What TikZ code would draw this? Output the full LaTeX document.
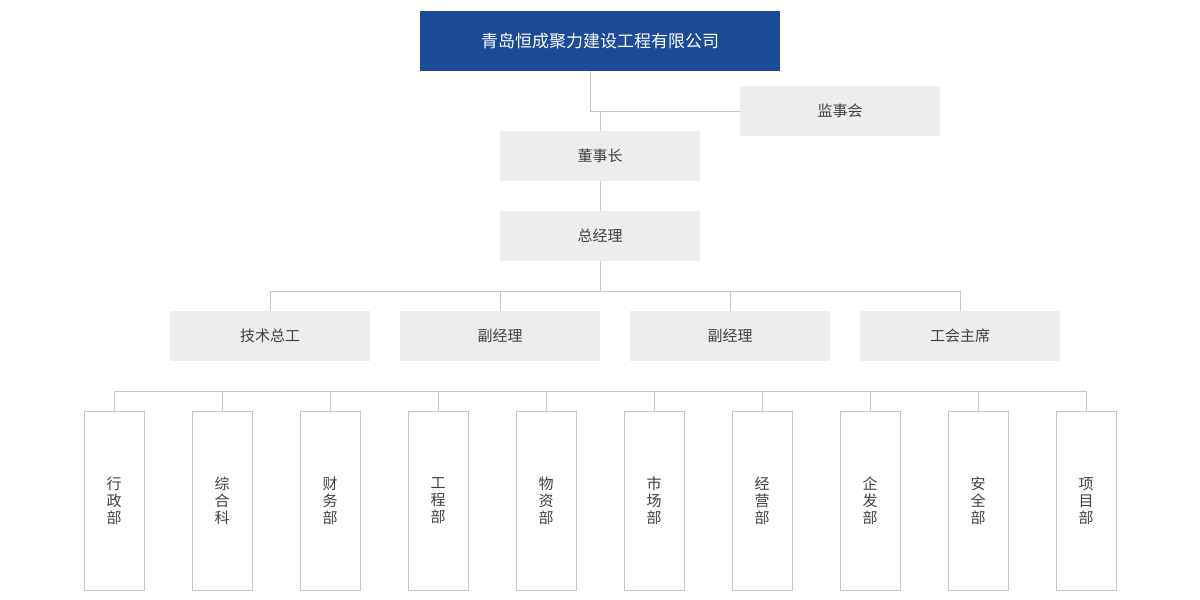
\documentclass[tikz,border=0pt]{standalone}
\usepackage{fontspec}
\setmainfont{Noto Sans CJK SC}
\begin{document}
\begin{tikzpicture}[x=0.5pt,y=-0.5pt,
  ln/.style={draw=black!22,line width=0.5pt},
  gbox/.style={fill=black!7,text=black!75,font=\fontsize{7.5}{9}\selectfont},
  dbox/.style={draw=black!22,line width=0.5pt,fill=white,text=black!75,align=center,font=\fontsize{7.5}{8.5}\selectfont}]
\useasboundingbox (0,0) rectangle (1200,600);
\fill[fill={rgb,255:red,27;green,74;blue,151}] (420,11) rectangle (780,71);
\node[text=white,font=\fontsize{8.5}{10}\selectfont] (top) at (600,41) {青岛恒成聚力建设工程有限公司};
\fill[black!7] (740,86) rectangle (940,136);
\node[text=black!75,font=\fontsize{7.5}{9}\selectfont] (jsh) at (840,111) {监事会};
\foreach \n/\x/\y/\t in {dsz/600/156/董事长, zjl/600/236/总经理, a/270/336/技术总工, b/500/336/副经理, c/730/336/副经理, d/960/336/工会主席}{
  \fill[black!7] (\x-100,\y-25) rectangle (\x+100,\y+25);
  \node[text=black!75,font=\fontsize{7.5}{9}\selectfont] (\n) at (\x,\y) {\t};
}
\coordinate (j1) at (590,111);
\coordinate (j2) at (600,111);
\draw[ln] (590,71) -- (j1) -- (740,111);
\draw[ln] (j2) -- (600,131);
\draw[ln] (600,181) -- (600,211);
\draw[ln] (600,261) -- (600,291);
\draw[ln] (270,291) -- (960,291);
\foreach \x in {270,500,730,960} \draw[ln] (\x,291) -- (\x,311);
\draw[ln] (114,391) -- (1086,391);
\foreach \i/\t in {0/行\\政\\部, 1/综\\合\\科, 2/财\\务\\部, 3/工\\程\\部, 4/物\\资\\部, 5/市\\场\\部, 6/经\\营\\部, 7/企\\发\\部, 8/安\\全\\部, 9/项\\目\\部}{
  \pgfmathsetmacro{\xx}{114+108*\i}
  \draw[ln] (\xx,391) -- (\xx,411);
  \draw[ln,fill=white] (\xx-30,411) rectangle (\xx+30,590);
  \node[text=black!75,align=center,font=\fontsize{7.5}{8.5}\selectfont] (p\i) at (\xx,501) {\t};
}
\end{tikzpicture}
\end{document}
